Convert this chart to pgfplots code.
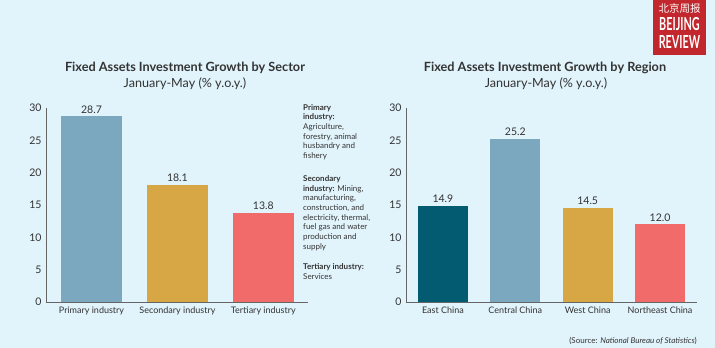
\documentclass[border=0pt]{standalone}
\usepackage{fontspec}
\setmainfont{Lato}
\newfontfamily\cjk{Noto Sans CJK SC}
\usepackage{pgfplots}
\pgfplotsset{compat=1.18}
\definecolor{bg}{HTML}{E1F3FB}
\definecolor{cblue}{HTML}{7BA7BF}
\definecolor{cgold}{HTML}{D8A745}
\definecolor{cred}{HTML}{F26B6B}
\definecolor{cteal}{HTML}{035B72}
\definecolor{txt}{HTML}{333333}
\definecolor{axc}{HTML}{666666}
\definecolor{logored}{HTML}{C1272D}
\pgfplotsset{
  mybase/.style={
    scale only axis, height=194pt, ymin=0, ymax=30,
    axis x line*=bottom, axis y line*=left,
    axis line style={axc, line width=0.8pt},
    major tick length=0pt,
    ytick={0,5,...,30},
    xtick={0,1,2,3},
    /pgf/number format/assume math mode=true,
    tick label style={font=\fontsize{9}{10}\selectfont, text=txt},
    yticklabel style={xshift=-1pt, font=\fontsize{10.5}{11}\selectfont},
    xticklabel style={yshift=-1pt},
    nodes near coords={\pgfmathprintnumber[fixed,fixed zerofill,precision=1,assume math mode=true]{\pgfplotspointmeta}},
    nodes near coords style={font=\fontsize{10.5}{11}\selectfont, text=txt, anchor=south, inner sep=1pt, yshift=2pt},
  },
  mybar/.style={ybar, bar shift=0pt, draw=none, fill=#1},
}
\begin{document}
\begin{tikzpicture}[x=1pt,y=1pt]
\fill[bg] (0,0) rectangle (715,348);
% left chart
\begin{axis}[mybase, at={(46pt,46pt)}, anchor=south west, width=262pt,
  xmin=-0.53, xmax=2.52,
  xticklabels={Primary industry,Secondary industry,Tertiary industry}]
\addplot[mybar=cblue, bar width=61pt] coordinates {(0,28.7)};
\addplot[mybar=cgold, bar width=61pt] coordinates {(1,18.1)};
\addplot[mybar=cred, bar width=61pt] coordinates {(2,13.8)};
\end{axis}
% right chart
\begin{axis}[mybase, at={(406pt,46pt)}, anchor=south west, width=291pt,
  xmin=-0.51, xmax=3.51,
  xticklabels={East China,Central China,West China,Northeast China}]
\addplot[mybar=cteal, bar width=50pt] coordinates {(0,14.9)};
\addplot[mybar=cblue, bar width=50pt] coordinates {(1,25.2)};
\addplot[mybar=cgold, bar width=50pt] coordinates {(2,14.5)};
\addplot[mybar=cred, bar width=50pt] coordinates {(3,12.0)};
\end{axis}
% titles
\node[text=txt, font=\bfseries\fontsize{12.7}{14}\selectfont] at (185,280) {Fixed Assets Investment Growth by Sector};
\node[text=txt, font=\fontsize{12.6}{14}\selectfont] at (185,264.5) {January-May (\% y.o.y.)};
\node[text=txt, font=\bfseries\fontsize{12.7}{14}\selectfont] at (545,280) {Fixed Assets Investment Growth by Region};
\node[text=txt, font=\fontsize{12.6}{14}\selectfont] at (546,264.5) {January-May (\% y.o.y.)};
% annotation
\node[text=txt, anchor=north west, align=left, inner sep=0pt, font=\fontsize{8}{9.7}\selectfont] at (303,244)
{\textbf{Primary}\\ \textbf{industry:}\\ Agriculture,\\ forestry, animal\\ husbandry and\\ fishery\\[13pt]
\textbf{Secondary}\\ \textbf{industry:} Mining,\\ manufacturing,\\ construction, and\\ electricity, thermal,\\ fuel gas and water\\ production and\\ supply\\[11pt]
\textbf{Tertiary industry:}\\ Services};
% source
\node[text=txt, anchor=east, inner sep=0pt, font=\fontsize{8}{9}\selectfont] at (697,7) {(Source: \textit{National Bureau of Statistics})};
% logo
\fill[logored] (653,348) rectangle (706,293);
\node[white, font=\cjk\fontsize{10.5}{11}\selectfont, inner sep=0pt] at (679.5,339.5) {北京周报};
\node[white, font=\bfseries\fontsize{18}{18}\selectfont, inner sep=0pt, xscale=0.6] at (679.5,324) {BEIJING};
\node[white, font=\bfseries\fontsize{18}{18}\selectfont, inner sep=0pt, xscale=0.6] at (679.5,306) {REVIEW};
\end{tikzpicture}
\end{document}
